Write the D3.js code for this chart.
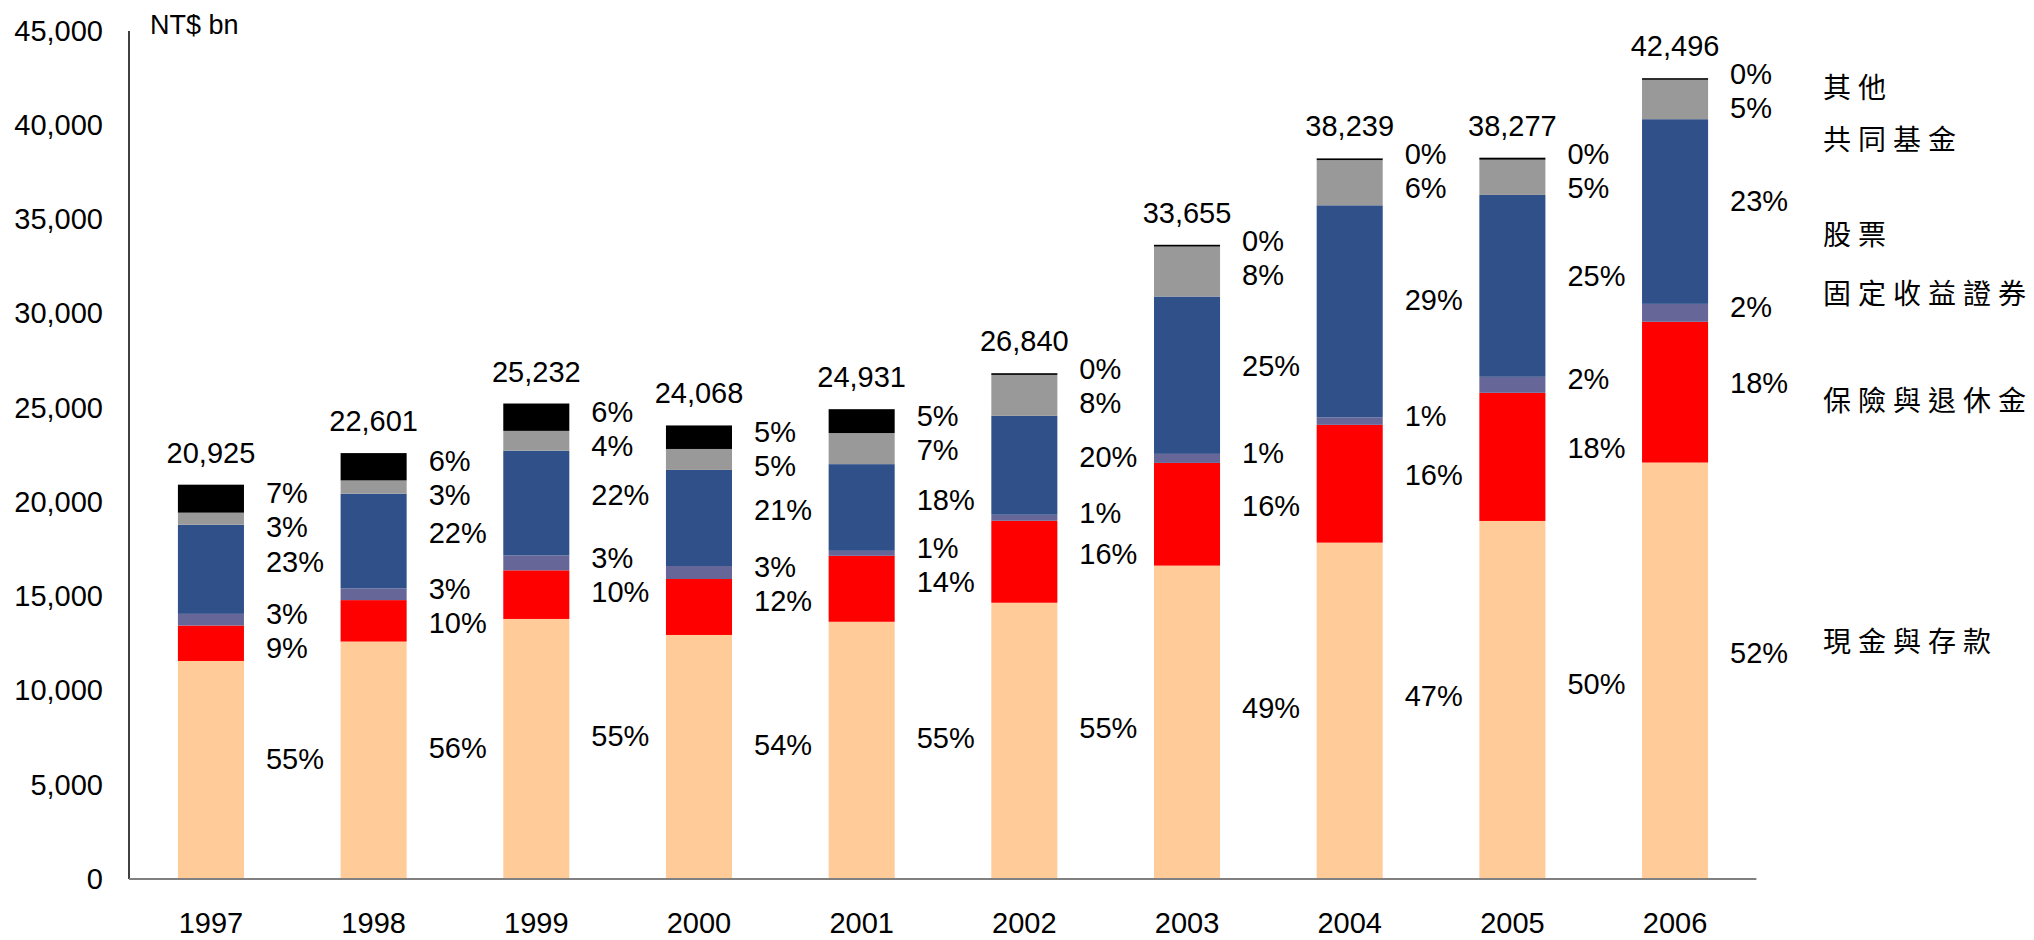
<!DOCTYPE html>
<html>
<head>
<meta charset="utf-8">
<script src="https://cdn.jsdelivr.net/npm/d3@7"></script>
<style>
  body { margin: 0; background: #fff; }
  svg text { font-family: "Liberation Sans", Arial, Helvetica, sans-serif; fill: #000; }
  .legend text { font-family: "Noto Sans CJK TC", "Noto Sans CJK SC", sans-serif; }
</style>
</head>
<body>
<svg id="chart" width="2034" height="940"></svg>
<script>
// Household financial assets by type, NT$ bn
const years = ["1997", "1998", "1999", "2000", "2001", "2002", "2003", "2004", "2005", "2006"];
const seriesNames = ["現金與存款", "保險與退休金", "固定收益證券", "股票", "共同基金", "其他"];

const cashDeposits     = [11570, 12600, 13800, 12950, 13650, 14660, 16630, 17850, 19000, 22100];
const insurancePension = [ 1880,  2200,  2580,  2970,  3500,  4350,  5450,  6250,  6800,  7470];
const fixedIncome      = [  620,   620,   790,   690,   265,   320,   480,   400,   850,   950];
const equities         = [ 4730,  5030,  5560,  5100,  4600,  5250,  8350, 11250,  9650,  9800];
const mutualFunds      = [  640,   701,  1050,  1110,  1650,  2170,  2650,  2400,  1870,  2090];
const others           = [ 1485,  1450,  1452,  1248,  1266,    90,    95,    89,   107,    86];

const yTicks = [0, 5000, 10000, 15000, 20000, 25000, 30000, 35000, 40000, 45000];
const unitLabel = "NT$ bn";

// ---- layout ----
const W = 2034, H = 940;
const axisX = 129, plotTop = 31, plotBottom = 879;
const colors = ["#FFCC99", "#FF0000", "#666699", "#2F5089", "#999999", "#000000"];
const seriesArrays = [cashDeposits, insurancePension, fixedIncome, equities, mutualFunds, others];
const keys = seriesNames;

const rows = years.map((yr, i) => {
  const r = { year: yr };
  keys.forEach((k, j) => { r[k] = seriesArrays[j][i]; });
  return r;
});
const totals = rows.map(r => d3.sum(keys, k => r[k]));

const svg = d3.select("#chart");
svg.append("rect").attr("width", W).attr("height", H).attr("fill", "#fff");

const x = d3.scaleBand()
  .domain(years)
  .range([129.6, 1756.4])
  .paddingInner(0.594)
  .paddingOuter(0.297);

const y = d3.scaleLinear()
  .domain([0, 45000])
  .range([plotBottom, plotTop]);

const stack = d3.stack().keys(keys);
const stacked = stack(rows);

// bars
const layers = svg.append("g").attr("class", "bars")
  .selectAll("g").data(stacked).join("g")
  .attr("fill", (d, i) => colors[i]);

layers.selectAll("rect").data(d => d).join("rect")
  .attr("x", d => x(d.data.year))
  .attr("width", x.bandwidth())
  .attr("y", d => y(d[1]))
  .attr("height", d => y(d[0]) - y(d[1]));

// axes
const yAxis = svg.append("g")
  .attr("transform", `translate(${axisX},0)`)
  .call(d3.axisLeft(y).tickValues(yTicks).tickSize(0).tickPadding(26).tickFormat(d3.format(",")));
yAxis.select(".domain").remove();
yAxis.selectAll("text").style("font-size", "29px").attr("fill", "#000");

const xAxis = svg.append("g")
  .attr("transform", `translate(0,${plotBottom})`)
  .call(d3.axisBottom(x).tickSize(0).tickPadding(33));
xAxis.select(".domain").remove();
xAxis.selectAll("text").style("font-size", "29px").attr("fill", "#000");

svg.append("line")
  .attr("x1", axisX).attr("x2", axisX)
  .attr("y1", y(45000)).attr("y2", y(0))
  .attr("stroke", "#000").attr("stroke-width", 1.5);
svg.append("line")
  .attr("x1", axisX).attr("x2", x.range()[1])
  .attr("y1", y(0)).attr("y2", y(0))
  .attr("stroke", "#808080").attr("stroke-width", 2);

svg.append("text")
  .attr("x", 150).attr("y", 25).attr("dy", "0.35em")
  .style("font-size", "27px")
  .text(unitLabel);

// totals above each bar
svg.append("g").selectAll("text").data(rows).join("text")
  .attr("x", d => x(d.year) + x.bandwidth() / 2)
  .attr("y", (d, i) => y(totals[i]) - 22)
  .attr("text-anchor", "middle")
  .style("font-size", "29px")
  .text((d, i) => d3.format(",")(totals[i]));

// share labels to the right of each bar, nudged apart when crowded
const pctFmt = v => Math.round(v * 100) + "%";
const minGap = 34;
const pctGroup = svg.append("g");
rows.forEach((r, i) => {
  const items = stacked.map(s => {
    const seg = s[i];
    const bottom = y(seg[0]), top = y(seg[1]);
    return {
      share: (seg[1] - seg[0]) / totals[i],
      pos: bottom - 0.53 * (bottom - top) - 5
    };
  });
  // top-most label stays, the ones below are pushed down if too close
  const ordered = items.slice().reverse();
  for (let k = 1; k < ordered.length; k++) {
    if (ordered[k].pos - ordered[k - 1].pos < minGap) {
      ordered[k].pos = ordered[k - 1].pos + minGap;
    }
  }
  pctGroup.selectAll(null).data(items).join("text")
    .attr("x", x(r.year) + x.bandwidth() + 22)
    .attr("y", d => d.pos)
    .attr("dy", "0.35em")
    .style("font-size", "29px")
    .text(d => pctFmt(d.share));
});

// category names at the right
const legendY = [642, 401, 294, 235, 140, 88];
svg.append("g").attr("class", "legend").selectAll("text").data(seriesNames).join("text")
  .attr("x", 1823)
  .attr("y", (d, i) => legendY[i])
  .attr("dy", "0.35em")
  .style("font-size", "28px")
  .style("letter-spacing", "7px")
  .text(d => d);
</script>
</body>
</html>
